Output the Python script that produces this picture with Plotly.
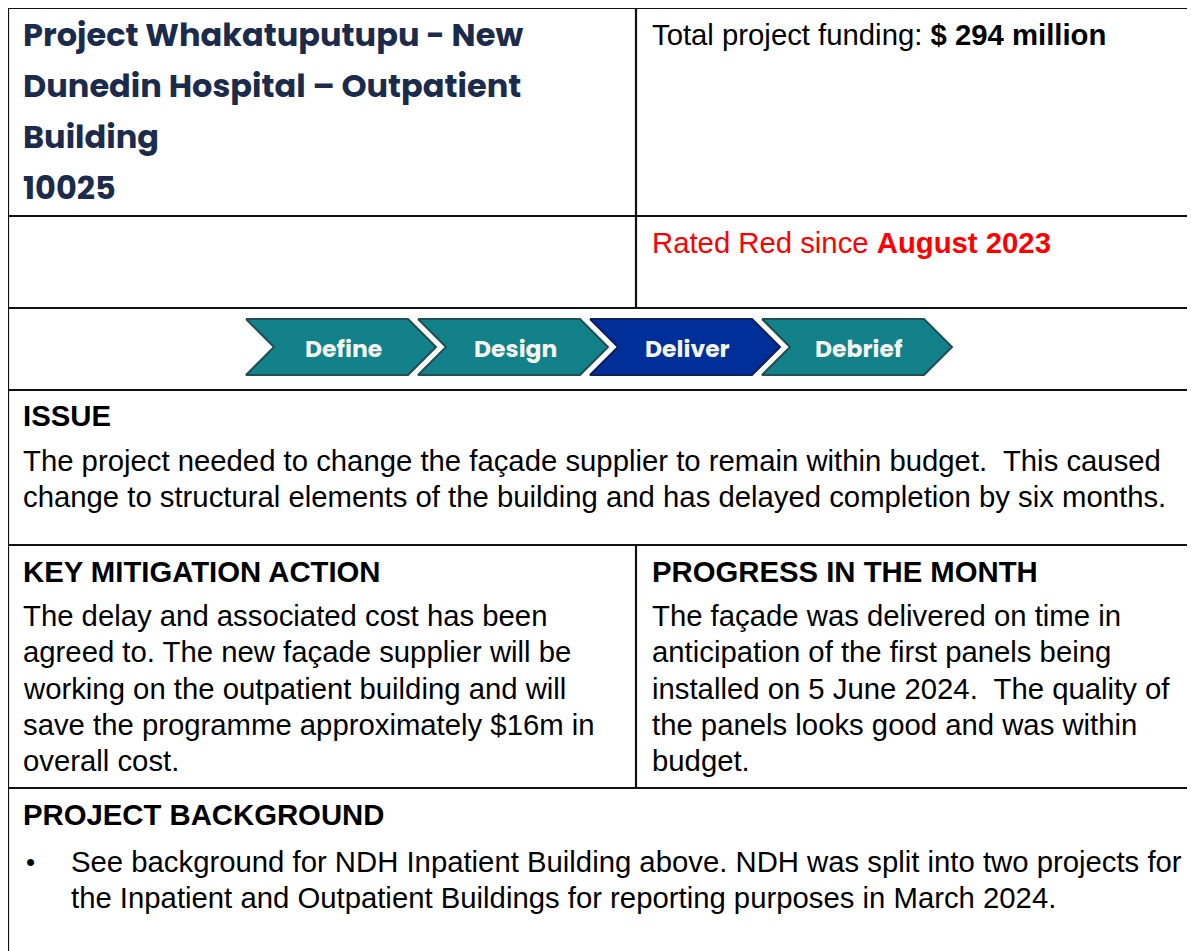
"""Project status card: Whakatuputupu - New Dunedin Hospital outpatient building."""

import plotly.graph_objects as go

# --- content -------------------------------------------------------------
title_lines = [
    "Project Whakatuputupu - New",
    "Dunedin Hospital \u2013 Outpatient",
    "Building",
    "10025",
]
funding_label = "Total project funding: "
funding_value = "$ 294 million"
rating_label = "Rated Red since "
rating_since = "August 2023"

phases = ["Define", "Design", "Deliver", "Debrief"]
current_phase = "Deliver"

issue_heading = "ISSUE"
issue_lines = [
    "The project needed to change the fa\u00e7ade supplier to remain within budget.  This caused",
    "change to structural elements of the building and has delayed completion by six months.",
]
mitigation_heading = "KEY MITIGATION ACTION"
mitigation_lines = [
    "The delay and associated cost has been",
    "agreed to. The new fa\u00e7ade supplier will be",
    "working on the outpatient building and will",
    "save the programme approximately $16m in",
    "overall cost.",
]
progress_heading = "PROGRESS IN THE MONTH"
progress_lines = [
    "The fa\u00e7ade was delivered on time in",
    "anticipation of the first panels being",
    "installed on 5 June 2024.  The quality of",
    "the panels looks good and was within",
    "budget.",
]
background_heading = "PROJECT BACKGROUND"
background_lines = [
    "See background for NDH Inpatient Building above. NDH was split into two projects for",
    "the Inpatient and Outpatient Buildings for reporting purposes in March 2024.",
]

# --- page geometry (pixel space of the screenshot) --------------------------
W, H = 1195, 951
OFF = 8  # page body margin; axes are shifted so coordinates match the screenshot
LEFT, MID, RIGHT, TOP = 8, 636, 1200, 8
ROW_BOTTOMS = [216, 308, 390, 545, 788]
PAD = 13
LINE = 36.3
BODY = 29.3
DY = -1.5  # small baseline nudge

TITLE_FONT = "Poppins, Inter, Lato, sans-serif"
BODY_FONT = "Liberation Sans, Arial, sans-serif"
NAVY = "#1c2b4c"
TEAL = "#12818a"
TEAL_EDGE = "#1f4f52"
BLUE = "#002f9a"
BLUE_EDGE = "#0d1f5c"

fig = go.Figure()

# chevrons, one per phase
chev_x0, chev_step, chev_body, chev_tip = 246, 172, 162, 28
chev_top, chev_bottom = 319, 375
chev_mid = (chev_top + chev_bottom) / 2
for i, name in enumerate(phases):
    x0 = chev_x0 + i * chev_step
    x1 = x0 + chev_body
    active = name == current_phase
    fig.add_trace(go.Scatter(
        x=[x0, x1, x1 + chev_tip, x1, x0, x0 + chev_tip, x0],
        y=[chev_top, chev_top, chev_mid, chev_bottom, chev_bottom, chev_mid, chev_top],
        mode="lines",
        fill="toself",
        fillcolor=BLUE if active else TEAL,
        line=dict(color=BLUE_EDGE if active else TEAL_EDGE, width=2),
        hoverinfo="skip",
        showlegend=False,
    ))
    fig.add_annotation(
        x=x0 + (chev_body + chev_tip) / 2 + 2, y=chev_mid + 1, text=f"<b>{name}</b>",
        showarrow=False, xanchor="center", yanchor="middle",
        font=dict(family=TITLE_FONT, size=23.5, color="#f4f4ee"),
    )

# table rules
rules = [
    (LEFT, TOP, RIGHT, TOP),
    (LEFT, TOP, LEFT, H + 20),
    (MID, TOP, MID, ROW_BOTTOMS[1]),
    (MID, ROW_BOTTOMS[3], MID, ROW_BOTTOMS[4]),
]
rules += [(LEFT, y, RIGHT, y) for y in ROW_BOTTOMS]
for x0, y0, x1, y1 in rules:
    fig.add_shape(type="line", x0=x0, y0=y0, x1=x1, y1=y1,
                  line=dict(color="#111111", width=2.2))


def text(x, y, s, size=BODY, color="#000000", family=BODY_FONT):
    fig.add_annotation(x=x, y=y + DY, text=s, showarrow=False,
                       xanchor="left", yanchor="middle",
                       font=dict(family=family, size=size, color=color))


lx, rx = LEFT + PAD, MID + PAD + 1

for i, line in enumerate(title_lines):
    text(lx, 36 + i * 51, f"<b>{line}</b>", size=32, color=NAVY, family=TITLE_FONT)

text(rx, 36, f"{funding_label}<b>{funding_value}</b>")
text(rx, 244, f"{rating_label}<b>{rating_since}</b>", color="#ff0000")

text(lx, 417, f"<b>{issue_heading}</b>")
for i, line in enumerate(issue_lines):
    text(lx, 462 + i * LINE, line)

text(lx, 573, f"<b>{mitigation_heading}</b>")
for i, line in enumerate(mitigation_lines):
    text(lx, 617 + i * LINE, line)

text(rx, 573, f"<b>{progress_heading}</b>")
for i, line in enumerate(progress_lines):
    text(rx, 617 + i * LINE, line)

text(lx, 816, f"<b>{background_heading}</b>")
text(lx + 3, 863, "\u2022", size=26)
for i, line in enumerate(background_lines):
    text(lx + 48, 863 + i * LINE, line)

fig.update_xaxes(range=[OFF, W + OFF], visible=False, fixedrange=True)
fig.update_yaxes(range=[H + OFF, OFF], visible=False, fixedrange=True)
fig.update_layout(
    width=W, height=H,
    margin=dict(l=0, r=0, t=0, b=0),
    paper_bgcolor="white", plot_bgcolor="white",
    showlegend=False,
)

fig.write_html("out.html")
